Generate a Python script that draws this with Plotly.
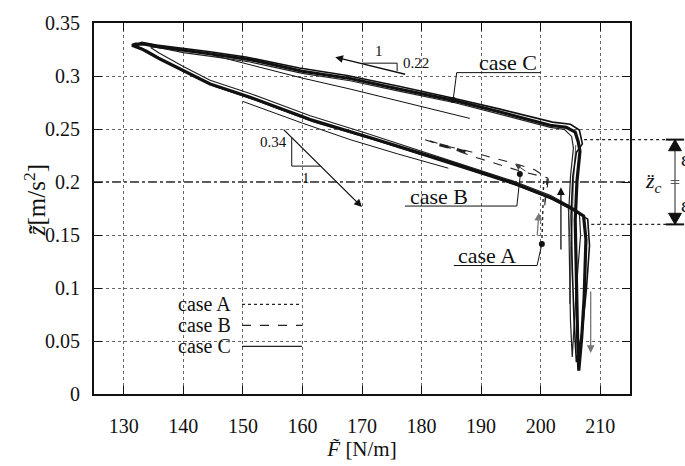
import plotly.graph_objects as go

# ---------------- data ----------------
# case C : main limit cycle (lower branch rightwards, spike down/up, upper branch leftwards)
c_F = [131.6, 133.0, 136.1, 140.0, 144.5, 151.2, 161.3, 171.0, 184.8, 195.3, 201.6, 205.4, 207.2,
       207.6, 207.3, 206.9, 206.4, 206.2, 206.0, 205.8, 206.1, 206.6, 206.3,
       205.8, 204.3, 201.6, 193.2, 185.6, 176.4, 168.0, 160.0, 151.2, 145.0, 140.0, 136.0, 133.5, 132.0, 131.4, 131.6]
c_Z = [0.3285, 0.3255, 0.316, 0.305, 0.2925, 0.280, 0.259, 0.2425, 0.2186, 0.1993, 0.1855, 0.1745, 0.168,
       0.146, 0.091, 0.054, 0.022, 0.054, 0.109, 0.164, 0.201, 0.229, 0.238,
       0.247, 0.2515, 0.2535, 0.266, 0.2768, 0.2875, 0.2976, 0.3045, 0.3155, 0.3205, 0.324, 0.3275, 0.330, 0.3302, 0.329, 0.3285]
# case C : neighbouring cycles of the bundle
c2_F = [132.3, 134.0, 137.0, 141.0, 145.5, 152.0, 162.0, 172.0, 185.5, 196.0, 202.2, 205.9, 207.9,
        208.2, 207.7, 207.0, 206.0, 205.6, 205.3, 205.1, 205.4, 206.0, 207.0,
        206.5, 205.0, 202.0, 193.0, 185.0, 176.0, 167.5, 159.5, 150.5, 144.5, 139.5, 135.5, 133.0, 132.5, 132.3]
c2_Z = [0.3275, 0.3235, 0.3135, 0.3025, 0.290, 0.2775, 0.2565, 0.240, 0.2162, 0.197, 0.1832, 0.1722, 0.165,
        0.140, 0.100, 0.060, 0.030, 0.070, 0.120, 0.168, 0.205, 0.228, 0.236,
        0.249, 0.2545, 0.2565, 0.269, 0.2795, 0.2905, 0.3005, 0.3075, 0.318, 0.3228, 0.3262, 0.3292, 0.3318, 0.3305, 0.3275]
c4_F = [134.5, 136.0, 140.0, 144.5, 151.2, 161.3, 171.0, 184.8, 195.3, 201.6, 205.0, 206.5,
        206.7, 206.0, 205.6, 205.3, 205.0, 204.8, 204.7, 205.0, 205.5, 205.2,
        204.0, 201.6, 193.2, 185.6, 176.4, 168.0, 160.0, 151.2, 145.0, 140.0, 137.0, 135.0, 134.5]
c4_Z = [0.327, 0.3215, 0.309, 0.296, 0.2835, 0.2625, 0.2455, 0.2205, 0.201, 0.1875, 0.177, 0.171,
        0.150, 0.100, 0.060, 0.035, 0.070, 0.120, 0.170, 0.205, 0.232, 0.243,
        0.2495, 0.2515, 0.264, 0.2748, 0.2855, 0.2955, 0.3025, 0.3132, 0.3182, 0.322, 0.3255, 0.3275, 0.327]
# case C : a shorter strand of the spike
c3_F = [204.6, 205.0, 204.9, 205.2, 205.5, 205.9]
c3_Z = [0.178, 0.140, 0.085, 0.150, 0.200, 0.235]
# case C : transient thin lines
t1_F = [145.0, 151.2, 160.0, 168.0, 178.0, 188.1]
t1_Z = [0.3195, 0.3105, 0.298, 0.2877, 0.274, 0.260]
t2_F = [150.0, 160.0, 168.0, 176.0, 184.5]
t2_Z = [0.276, 0.2555, 0.240, 0.2265, 0.213]
# case B (dashed)
b_F = [180.6, 184.0, 188.6, 192.5, 196.5, 201.1, 200.9, 200.6, 201.3, 199.0, 196.0, 192.0, 188.1, 184.5, 181.4]
b_Z = [0.2398, 0.2335, 0.2241, 0.2175, 0.2104, 0.204, 0.190, 0.175, 0.203, 0.2115, 0.2168, 0.223, 0.2287, 0.2335, 0.2388]
bb_F = [183.0, 185.5, 188.0]
bb_Z = [0.2352, 0.2315, 0.2275]
# case A (dotted)
a_F = [200.2, 200.3, 200.3, 200.4, 200.5]
a_Z = [0.1415, 0.160, 0.175, 0.190, 0.2012]

x_ticks = [130, 140, 150, 160, 170, 180, 190, 200, 210]
y_ticks = [0, 0.05, 0.1, 0.15, 0.2, 0.25, 0.3, 0.35]
y_tick_text = ["0", "0.05", "0.1", "0.15", "0.2", "0.25", "0.3", "0.35"]

z_c = 0.2
eps_hi, eps_lo = 0.24, 0.16

FONT = "Liberation Serif, Times New Roman, serif"
X0, X1 = 125, 215
Y0, Y1 = 0, 0.35

def px(F):
    return (F - X0) / (X1 - X0)

def py(Z):
    return (Z - Y0) / (Y1 - Y0)

def ppx(p):   # pixel column -> paper
    return (p - 94) / 536

def ppy(p):   # pixel row -> paper
    return (399 - p) / 381

fig = go.Figure()
fig.add_trace(go.Scatter(x=t1_F, y=t1_Z, mode="lines", line=dict(color="#111", width=1), showlegend=False))
fig.add_trace(go.Scatter(x=t2_F, y=t2_Z, mode="lines", line=dict(color="#111", width=1), showlegend=False))
fig.add_trace(go.Scatter(x=c3_F, y=c3_Z, mode="lines", line=dict(color="#555", width=1), showlegend=False))
fig.add_trace(go.Scatter(x=c4_F, y=c4_Z, mode="lines", line=dict(color="#222", width=1.2), showlegend=False))
fig.add_trace(go.Scatter(x=c2_F, y=c2_Z, mode="lines", line=dict(color="#111", width=1.6), showlegend=False))
fig.add_trace(go.Scatter(x=c_F, y=c_Z, mode="lines", line=dict(color="#111", width=3.2), showlegend=False))
fig.add_trace(go.Scatter(x=b_F, y=b_Z, mode="lines", line=dict(color="#222", width=1.1, dash="dash"), showlegend=False))
fig.add_trace(go.Scatter(x=bb_F, y=bb_Z, mode="lines", line=dict(color="#222", width=3, dash="dash"), showlegend=False))
fig.add_trace(go.Scatter(x=a_F, y=a_Z, mode="lines", line=dict(color="#222", width=1.4, dash="dot"), showlegend=False))
# label markers
fig.add_trace(go.Scatter(x=[185.3, 196.5, 200.2], y=[0.2774, 0.2076, 0.1415], mode="markers",
                         marker=dict(color="#111", size=6), showlegend=False))

shapes = []
# z_c dash-dot line
shapes.append(dict(type="line", xref="paper", yref="paper", x0=0, x1=1.0, y0=py(z_c), y1=py(z_c),
                   line=dict(color="#222", width=1.3, dash="dashdot"), layer="below"))
# epsilon band lines
shapes.append(dict(type="line", xref="paper", yref="paper", x0=px(207.3), x1=ppx(681), y0=py(eps_hi), y1=py(eps_hi),
                   line=dict(color="#222", width=1.2, dash="dot")))
shapes.append(dict(type="line", xref="paper", yref="paper", x0=px(208.5), x1=ppx(681), y0=py(eps_lo), y1=py(eps_lo),
                   line=dict(color="#222", width=1.2, dash="dot")))
xa = ppx(675)
shapes.append(dict(type="line", xref="paper", yref="paper", x0=xa, x1=xa, y0=py(eps_lo) + 0.02, y1=py(eps_hi) - 0.02,
                   line=dict(color="#555", width=1.3)))
for dy in (-0.004, 0.004):
    shapes.append(dict(type="line", xref="paper", yref="paper", x0=xa - 0.008, x1=xa + 0.008,
                       y0=py(z_c) + dy, y1=py(z_c) + dy, line=dict(color="#555", width=1)))
for yy, d in [(py(eps_hi), -1), (py(eps_lo), 1)]:
    shapes.append(dict(type="line", xref="paper", yref="paper", x0=xa - 0.017, x1=xa + 0.017, y0=yy, y1=yy,
                       line=dict(color="#111", width=2)))
    shapes.append(dict(type="path", xref="paper", yref="paper",
                       path=f"M {xa-0.012},{yy + d*0.030} L {xa+0.012},{yy + d*0.030} L {xa},{yy} Z",
                       fillcolor="#111", line=dict(color="#111", width=1)))
# legend background
shapes.append(dict(type="rect", xref="paper", yref="paper", x0=ppx(150), x1=ppx(312),
                   y0=ppy(362), y1=ppy(294), fillcolor="white", line=dict(width=0), layer="below"))
# legend line samples
for yy, dsh in [(307, "dot"), (328.5, "dash"), (350, "solid")]:
    shapes.append(dict(type="line", xref="paper", yref="paper", x0=ppx(242), x1=ppx(302),
                       y0=ppy(yy), y1=ppy(yy), line=dict(color="#222", width=1.2, dash=dsh)))
# slope triangle upper (1 / 0.22)
shapes.append(dict(type="path", xref="x", yref="y",
                   path="M 170.0,0.3121 L 175.9,0.3121 L 175.9,0.3047", line=dict(color="#111", width=1)))
# slope triangle lower (0.34 / 1)
shapes.append(dict(type="path", xref="x", yref="y",
                   path="M 158.2,0.2416 L 158.2,0.2150 L 163.0,0.2150", line=dict(color="#111", width=1)))
# label leader lines
shapes.append(dict(type="path", xref="x", yref="y",
                   path="M 185.3,0.2774 L 185.9,0.3032 L 200.0,0.3032", line=dict(color="#111", width=1)))
shapes.append(dict(type="path", xref="x", yref="y",
                   path="M 196.6,0.2076 L 196.0,0.1773 L 177.2,0.1773", line=dict(color="#111", width=1)))
shapes.append(dict(type="path", xref="x", yref="y",
                   path="M 200.2,0.1415 L 199.4,0.1212 L 185.4,0.1212", line=dict(color="#111", width=1)))

annotations = []
def arrow(x0, y0, x1, y1, color="#111", width=1.3, head=2, size=1.2):
    annotations.append(dict(x=x1, y=y1, ax=x0, ay=y0, xref="x", yref="y", axref="x", ayref="y",
                            showarrow=True, arrowhead=head, arrowsize=size, arrowwidth=width,
                            arrowcolor=color, text=""))

arrow(177.5, 0.3013, 165.5, 0.3178)               # upper branch direction
arrow(156.6, 0.2508, 170.0, 0.1764)               # lower branch direction
arrow(208.4, 0.098, 208.4, 0.0386, color="#777")  # down arrow
arrow(203.4, 0.135, 203.4, 0.195)                 # up arrow
arrow(199.4, 0.148, 199.7, 0.171, color="#777")   # case A up arrow
arrow(197.7, 0.2094, 195.7, 0.2168, color="#444", width=1)  # case B arrow

def txt(x, y, s, size=17, xanchor="center", xref="x", yref="y", angle=0):
    annotations.append(dict(x=x, y=y, xref=xref, yref=yref, text=s, showarrow=False, textangle=angle,
                            font=dict(family=FONT, size=size, color="#111"), xanchor=xanchor, yanchor="middle"))

txt(172.9, 0.3235, "1", size=15)
txt(176.5, 0.312, "0.22", size=15, xanchor="left")
txt(157.7, 0.2379, "0.34", size=15, xanchor="right")
txt(160.6, 0.2035, "1", size=15)
txt(194.5, 0.3125, "case C", size=22)
txt(182.9, 0.1865, "case B", size=22)
txt(191.0, 0.1305, "case A", size=22)
txt(ppx(233), ppy(307), "case A", size=20, xanchor="right", xref="paper", yref="paper")
txt(ppx(233), ppy(328.5), "case B", size=20, xanchor="right", xref="paper", yref="paper")
txt(ppx(233), ppy(350), "case C", size=20, xanchor="right", xref="paper", yref="paper")
txt(ppx(653), py(z_c), "<i>z̈<sub>c</sub></i>", size=22, xref="paper", yref="paper")
txt(ppx(679), py(0.222), "ε", size=20, xanchor="left", xref="paper", yref="paper")
txt(ppx(679), py(0.178), "ε", size=20, xanchor="left", xref="paper", yref="paper")
# y axis title
txt(ppx(35), ppy(200), "<i>z̈̃</i>[m/s<sup>2</sup>]", size=25, xref="paper", yref="paper", angle=-90)

axis_common = dict(showline=True, linecolor="#111", linewidth=2, mirror="ticks", ticks="inside",
                   ticklen=8, tickcolor="#111", tickwidth=1.2, showgrid=True, gridcolor="#666",
                   griddash="dot", gridwidth=1, zeroline=False,
                   tickfont=dict(family=FONT, size=20, color="#111"))

fig.update_layout(
    width=685, height=466,
    margin=dict(l=94, r=55, t=18, b=67),
    paper_bgcolor="white", plot_bgcolor="white",
    shapes=shapes, annotations=annotations, showlegend=False,
    xaxis=dict(range=[X0, X1], tickvals=x_ticks, ticklabelstandoff=13, **axis_common,
               title=dict(text="<i>F̃</i> [N/m]", font=dict(family=FONT, size=21, color="#111"), standoff=2)),
    yaxis=dict(range=[Y0, Y1], tickvals=y_ticks, ticktext=y_tick_text, ticklabelstandoff=8, **axis_common),
)
fig.write_html("out.html")
